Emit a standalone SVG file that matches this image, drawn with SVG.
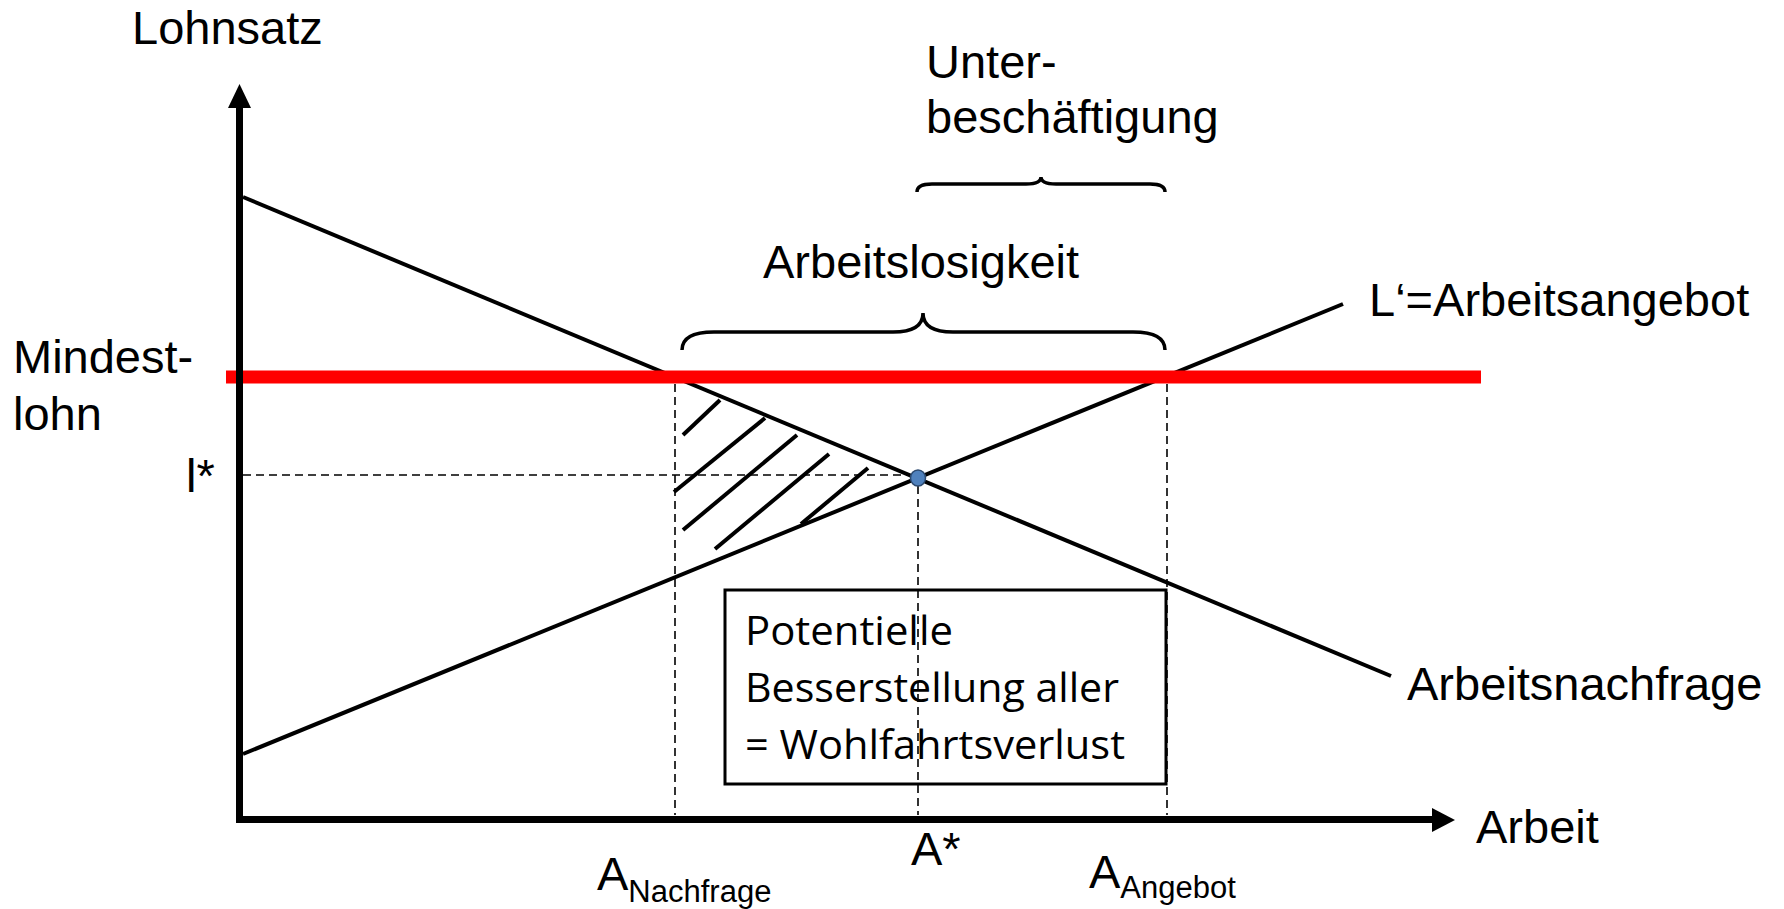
<svg xmlns="http://www.w3.org/2000/svg" width="1784" height="909" viewBox="0 0 1784 909">
<style>
.lbl{font-family:"Liberation Sans",Arial,sans-serif;font-size:47px;fill:#000}
.sub{font-size:31px}
.box{font-family:"Open Sans","Noto Sans",sans-serif;font-size:40px;fill:#000}
.curve{stroke:#000;stroke-width:4;fill:none}
.dash{stroke:#000;stroke-width:1.6;stroke-dasharray:8,5;fill:none}
.hatch{stroke:#000;stroke-width:4;stroke-linecap:butt}
.brace{stroke:#000;stroke-width:3.5;fill:none}
.axis{stroke:#000;stroke-width:7}
</style>
<rect width="1784" height="909" fill="#fff"/>
<g id="connectors">
  <line class="dash" x1="243" y1="475" x2="912" y2="475"/>
  <line class="dash" x1="675" y1="384" x2="675" y2="815"/>
  <line class="dash" x1="918" y1="486" x2="918" y2="815"/>
  <line class="dash" x1="1167" y1="384" x2="1167" y2="815"/>
  <line id="demand" class="curve" x1="243" y1="197" x2="1391" y2="676"/>
  <line id="supply" class="curve" x1="243" y1="754" x2="1343" y2="304"/>
  <line id="mindestlohn-line" x1="226" y1="377" x2="1481" y2="377" stroke="#ff0000" stroke-width="13"/>
  <g id="hatching">
    <line class="hatch" x1="683" y1="435" x2="720" y2="400"/>
    <line class="hatch" x1="674" y1="492" x2="765" y2="418"/>
    <line class="hatch" x1="683" y1="530" x2="797" y2="435"/>
    <line class="hatch" x1="715" y1="549" x2="829" y2="454"/>
    <line class="hatch" x1="801" y1="524" x2="868" y2="468"/>
  </g>
  <path class="brace" d="M917,192 Q917,184 932,184 L1026,184 Q1041,184 1041,177 Q1041,184 1056,184 L1150,184 Q1165,184 1165,192"/>
  <path class="brace" d="M682,350 Q682,332 714,332 L893,332 Q923,332 923,313 Q923,332 953,332 L1133,332 Q1165,332 1165,350"/>
</g>
<g id="axes">
  <line class="axis" x1="239.5" y1="823" x2="239.5" y2="106"/>
  <polygon points="228,108 251,108 239.5,84" fill="#000"/>
  <line class="axis" x1="236" y1="819.5" x2="1434" y2="819.5"/>
  <polygon points="1432,808 1432,832 1455,820" fill="#000"/>
</g>
<g id="equilibrium">
  <ellipse cx="918" cy="478" rx="7.5" ry="8" fill="#4f81bd" stroke="#2c4a70" stroke-width="1.5"/>
</g>
<g id="wohlfahrt-box">
  <rect x="725" y="590" width="441" height="194" fill="none" stroke="#000" stroke-width="3"/>
  <text class="box" x="745" y="645" textLength="208" lengthAdjust="spacingAndGlyphs">Potentielle</text>
  <text class="box" x="745" y="702" textLength="374" lengthAdjust="spacingAndGlyphs">Besserstellung aller</text>
  <text class="box" x="745" y="759" textLength="380" lengthAdjust="spacingAndGlyphs">= Wohlfahrtsverlust</text>
</g>
<g id="labels">
  <text id="lohnsatz" class="lbl" x="132" y="44">Lohnsatz</text>
  <text id="unterbeschaeftigung" class="lbl"><tspan x="926" y="78">Unter-</tspan><tspan x="926" y="133">beschäftigung</tspan></text>
  <text id="arbeitslosigkeit" class="lbl" x="763" y="278">Arbeitslosigkeit</text>
  <text id="angebot" class="lbl" x="1369" y="316">L‘=Arbeitsangebot</text>
  <text id="mindestlohn" class="lbl"><tspan x="13" y="373">Mindest-</tspan><tspan x="13" y="430">lohn</tspan></text>
  <text id="lstar" class="lbl" x="186" y="492">l*</text>
  <text id="nachfrage" class="lbl" x="1407" y="700">Arbeitsnachfrage</text>
  <text id="arbeit" class="lbl" x="1476" y="843">Arbeit</text>
  <text id="astar" class="lbl" x="911" y="865">A*</text>
  <text id="anachfrage" class="lbl" x="597" y="890">A<tspan class="sub" dy="12">Nachfrage</tspan></text>
  <text id="aangebot" class="lbl" x="1089" y="888">A<tspan class="sub" dy="10">Angebot</tspan></text>
</g>
</svg>
